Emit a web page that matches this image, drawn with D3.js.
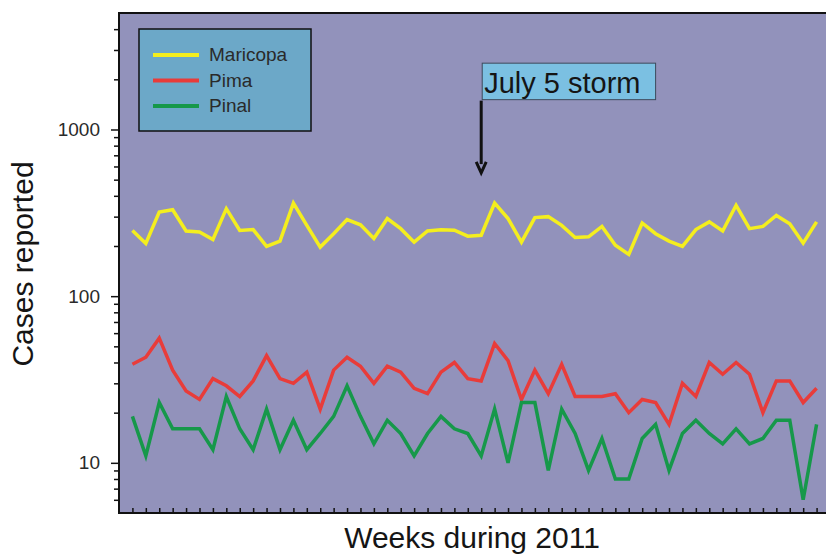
<!DOCTYPE html>
<html>
<head>
<meta charset="utf-8">
<script src="https://cdn.jsdelivr.net/npm/d3@7"></script>
<style>
  body { margin: 0; background: #fff; }
  svg { display: block; font-family: "Liberation Sans", Arial, sans-serif; }
</style>
</head>
<body>
<svg id="chart"></svg>
<script>
// weekly case counts
const weeks = d3.range(1, 53);
const counties = ['Maricopa', 'Pima', 'Pinal'];
const colors = ['#f4ee1e', '#e83c3a', '#16984a'];

const maricopa = [248,207,320,330,246,243,219,335,248,251,199,214,362,266,197,237,288,268,222,292,
  254,211,246,250,249,229,232,362,292,211,296,300,266,225,227,262,202,178,275,237,
  214,199,251,279,246,351,254,262,305,272,208,279];
const pima = [39,43,56,36,27,24,32,29,25,31,44,32,30,35,21,36,43,38,30,38,
  35,28,26,35,40,32,31,52,41,24,36,26,39,25,25,25,26,20,24,23,
  17,30,25,40,34,40,34,20,31,31,23,28];
const pinal = [19,11,23,16,16,16,12,25,16,12,21,12,18,12,15,19,29,19,13,18,
  15,11,15,19,16,15,11,21,10,23,23,9,21,15,9,14,8,8,14,17,
  9,15,18,15,13,16,13,14,18,18,6,17];

const majorTicks = [10, 100, 1000];
const minorTicks = [6,7,8,9,20,30,40,50,60,70,80,90,200,300,400,500,600,700,800,900,2000,3000,4000];

const stormWeek = 27;
const stormLabel = 'July 5 storm';

const W = 826, H = 555;
const margin = {top: 13, right: -4, bottom: 42, left: 119};
const width = W - margin.left - margin.right;
const height = H - margin.top - margin.bottom;

const svg = d3.select('#chart').attr('width', W).attr('height', H);
const chart = svg.append('g').attr('transform', `translate(${margin.left},${margin.top})`);

const x = d3.scaleLinear().domain([0, 53]).range([0, width]);
const y = d3.scaleLog().domain([5, 5000]).range([height, 0]);

chart.append('rect')
  .attr('width', width).attr('height', height)
  .attr('fill', '#9292bb');

// x ticks point inward, no labels
chart.append('g')
  .attr('transform', `translate(0,${height})`)
  .call(d3.axisBottom(x).tickValues(weeks).tickSize(-5).tickFormat(''))
  .call(g => g.select('.domain').remove())
  .call(g => g.selectAll('line').attr('stroke', '#111').attr('stroke-width', 1.5));

chart.append('g')
  .call(d3.axisLeft(y).tickValues(minorTicks).tickSize(5).tickFormat(''))
  .call(g => g.select('.domain').remove())
  .call(g => g.selectAll('line').attr('stroke', '#111').attr('stroke-width', 1.5));

chart.append('g')
  .call(d3.axisLeft(y).tickValues(majorTicks).tickSize(8).tickPadding(11).tickFormat(d3.format('d')))
  .call(g => g.select('.domain').remove())
  .call(g => g.selectAll('line').attr('stroke', '#111').attr('stroke-width', 1.5))
  .call(g => g.selectAll('text').attr('font-size', 19).attr('fill', '#2a2a2a').attr('font-family', '"Liberation Sans", Arial, sans-serif'));

// frame: top, left, bottom
chart.append('path')
  .attr('d', `M${width},0H0V${height}H${width}`)
  .attr('fill', 'none').attr('stroke', '#111').attr('stroke-width', 2);

const line = d3.line().x((d, i) => x(weeks[i])).y(d => y(d));
const series = [maricopa, pima, pinal];

chart.selectAll('.series')
  .data(series)
  .join('path')
  .attr('class', 'series')
  .attr('d', line)
  .attr('fill', 'none')
  .attr('stroke', (d, i) => colors[i])
  .attr('stroke-width', 3.5)
  .attr('stroke-linejoin', 'miter');

// legend
const legend = chart.append('g').attr('transform', 'translate(20,16)');
legend.append('rect')
  .attr('width', 172).attr('height', 102)
  .attr('fill', '#6ca8c8').attr('stroke', '#111').attr('stroke-width', 1.5);
counties.forEach((c, i) => {
  const ly = 26 + i * 25.5;
  legend.append('line')
    .attr('x1', 14).attr('x2', 60).attr('y1', ly).attr('y2', ly)
    .attr('stroke', colors[i]).attr('stroke-width', 4);
  legend.append('text')
    .attr('x', 70).attr('y', ly + 6)
    .attr('font-size', 19).attr('fill', '#2a2a2a')
    .text(c);
});

// storm annotation
const ax = x(stormWeek);
const ann = chart.append('g');
ann.append('rect')
  .attr('x', ax + 1).attr('y', y(2500))
  .attr('width', x(40) - ax - 1).attr('height', y(1510) - y(2500))
  .attr('fill', '#7bc0e2').attr('stroke', '#3c4a5c').attr('stroke-width', 1);
ann.append('text')
  .attr('x', ax + 3).attr('y', y(1650))
  .attr('font-size', 29).attr('fill', '#151515')
  .text(stormLabel);
ann.append('line')
  .attr('x1', ax).attr('x2', ax).attr('y1', y(1490)).attr('y2', y(620))
  .attr('stroke', '#111').attr('stroke-width', 3);
ann.append('path')
  .attr('d', `M${ax - 5},${y(640)}L${ax},${y(550)}L${ax + 5},${y(640)}`)
  .attr('fill', 'none').attr('stroke', '#111').attr('stroke-width', 3)
  .attr('stroke-linejoin', 'miter');

// axis titles
svg.append('text')
  .attr('x', 472).attr('y', 548)
  .attr('text-anchor', 'middle').attr('font-size', 30).attr('fill', '#151515')
  .text('Weeks during 2011');

svg.append('text')
  .attr('transform', 'translate(33,264) rotate(-90)')
  .attr('text-anchor', 'middle').attr('font-size', 30).attr('fill', '#151515')
  .text('Cases reported');
</script>
</body>
</html>
